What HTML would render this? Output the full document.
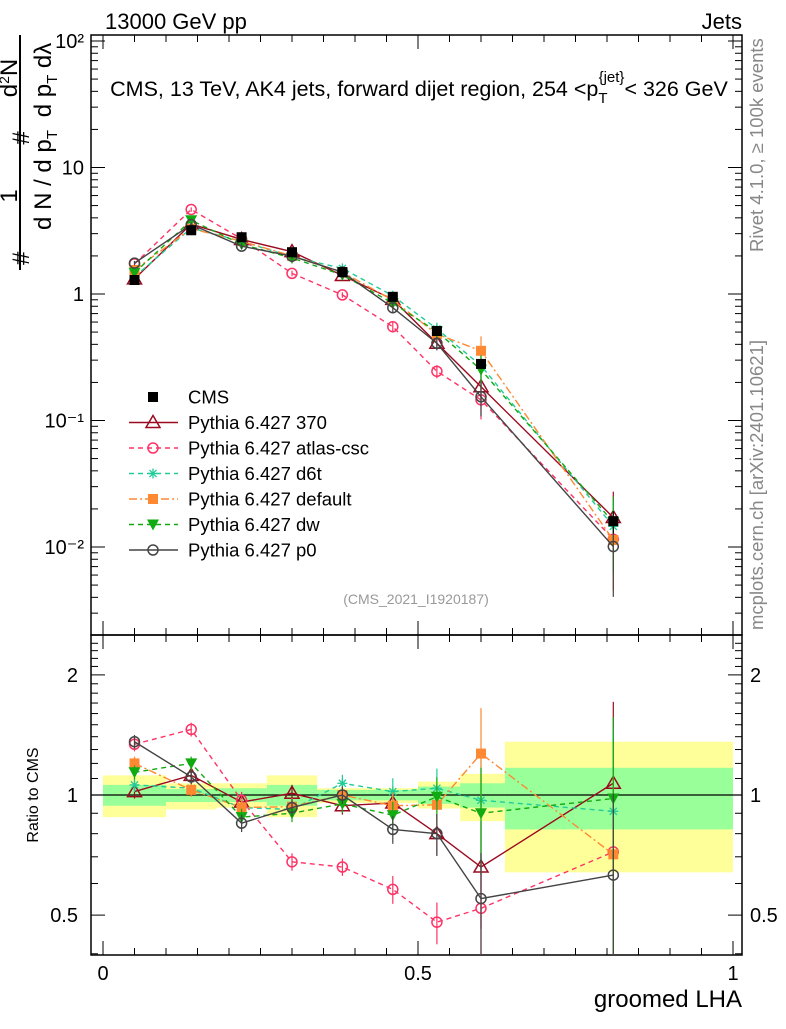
<!DOCTYPE html>
<html><head><meta charset="utf-8"><style>
body{margin:0;background:#fff}
svg{font-family:"Liberation Sans",sans-serif}
</style></head><body>
<svg id="chart" width="786" height="1024" xmlns="http://www.w3.org/2000/svg">
<text x="105" y="29" font-size="22">13000 GeV pp</text>
<text x="742" y="29" font-size="22" text-anchor="end">Jets</text>
<text x="419" y="96" font-size="21.5" text-anchor="middle">CMS, 13 TeV, AK4 jets, forward dijet region, 254 &lt;p<tspan font-size="15" dy="7">T</tspan><tspan font-size="15" dx="-9" dy="-21">{jet}</tspan><tspan dy="14">&lt; 326 GeV</tspan></text>
<text x="416" y="604" font-size="14" fill="#999" text-anchor="middle">(CMS_2021_I1920187)</text>
<g font-size="24">
<line x1="20" y1="35" x2="20" y2="270" stroke="#000" stroke-width="2"/>
<text transform="translate(29,265) rotate(-90)">#</text>
<text transform="translate(17,196) rotate(-90)" text-anchor="middle">1</text>
<text transform="translate(51,180) rotate(-90)" text-anchor="middle">d N / d p<tspan font-size="15" dy="6">T</tspan></text>
<text transform="translate(29,138) rotate(-90)" text-anchor="middle">#</text>
<text transform="translate(17,78) rotate(-90)" text-anchor="middle">d<tspan font-size="14" dy="-8">2</tspan><tspan dy="8">N</tspan></text>
<text transform="translate(51,80) rotate(-90)" text-anchor="middle">d p<tspan font-size="15" dy="6">T</tspan><tspan dy="-6">  d</tspan>λ</text>
</g>
<text transform="translate(763,252) rotate(-90)" font-size="18.5" fill="#888">Rivet 4.1.0, ≥ 100k events</text>
<text transform="translate(763,630) rotate(-90)" font-size="18.5" fill="#888">mcplots.cern.ch [arXiv:2401.10621]</text>
<text transform="translate(38,795) rotate(-90)" font-size="16" text-anchor="middle">Ratio to CMS</text>
<text x="742" y="1007" font-size="24" text-anchor="end">groomed LHA</text>
<g id="bands"></g><g id="grid"></g><g id="series"></g><g id="legend"></g>
</svg>
<script>
const binEdges=[0,0.1,0.18,0.26,0.34,0.42,0.5,0.567,0.638,1];
const xCenters=[0.05,0.14,0.22,0.3,0.38,0.46,0.53,0.6,0.81];
const cmsValues=[1.29,3.19,2.81,2.14,1.49,0.95,0.51,0.28,0.016];
const cmsErr=[0.05,0.06,0.05,0.05,0.05,0.05,0.06,0.08,0.2];
const bandTotLo=[0.88,0.92,0.93,0.88,0.955,0.955,0.925,0.86,0.64];
const bandTotHi=[1.12,1.07,1.07,1.12,1.04,1.04,1.08,1.13,1.36];
const bandStatLo=[0.94,0.96,0.96,0.94,0.97,0.97,0.95,0.93,0.82];
const bandStatHi=[1.06,1.035,1.04,1.06,1.03,1.03,1.05,1.07,1.17];
const r370=[1.02,1.12,0.96,1.01,0.94,0.955,0.80,0.66,1.07];
const rAtlas=[1.34,1.46,0.97,0.68,0.66,0.58,0.48,0.52,0.72];
const rD6t=[1.06,1.04,0.93,0.92,1.07,1.02,1.04,0.97,0.91];
const rDefault=[1.20,1.03,0.93,0.935,1.0,0.94,0.945,1.27,0.71];
const rDw=[1.14,1.20,0.88,0.90,0.95,0.89,0.99,0.90,0.98];
const rP0=[1.36,1.11,0.85,0.93,1.0,0.82,0.80,0.55,0.63];
const modelErr=[0.04,0.04,0.05,0.05,0.05,0.08,0.12,0.3,0.6];
const yTicksMain=[100,10,1,0.1,0.01];
const yTickLabelsMain=["10²","10","1","10⁻¹","10⁻²"];
const xTicks=[0,0.5,1];
const xTickLabels=["0","0.5","1"];
const rTicks=[2,1,0.5];
const rTickLabels=["2","1","0.5"];

const NS="http://www.w3.org/2000/svg";
const L=91,R=742,T=35,MB=635,B=955;
const X=v=>103+630*v;
const Y=v=>294-126.5*Math.log10(v);
const YR=r=>795-399*Math.log10(r);
function mk(tag,at,parent){const e=document.createElementNS(NS,tag);for(const k in at)e.setAttribute(k,at[k]);parent.appendChild(e);return e;}
const bands=document.getElementById('bands'),grid=document.getElementById('grid'),ser=document.getElementById('series'),leg=document.getElementById('legend');
for(let i=0;i<9;i++){
 const x0=X(binEdges[i]),x1=X(binEdges[i+1]);
 let e=mk('rect',{x:x0,y:YR(bandTotHi[i]),width:x1-x0,height:YR(bandTotLo[i])-YR(bandTotHi[i]),fill:'#ffff99'},bands);
 
 
 e=mk('rect',{x:x0,y:YR(bandStatHi[i]),width:x1-x0,height:YR(bandStatLo[i])-YR(bandStatHi[i]),fill:'#99ff99'},bands);
 
 
}
mk('line',{x1:L,x2:R,y1:YR(1),y2:YR(1),stroke:'#000','stroke-width':1.3},grid);
let fr=mk('rect',{x:L,y:T,width:R-L,height:MB-T,fill:'none',stroke:'#000','stroke-width':1.5},grid);


fr=mk('rect',{x:L,y:MB,width:R-L,height:B-MB,fill:'none',stroke:'#000','stroke-width':1.5},grid);


for(let d=-3;d<=2;d++){for(let m=1;m<10;m++){const v=m*Math.pow(10,d);const y=Y(v);if(y<T||y>MB)continue;const len=m==1?14:7;
 mk('line',{x1:L,x2:L+len,y1:y,y2:y,stroke:'#000'},grid);mk('line',{x1:R,x2:R-len,y1:y,y2:y,stroke:'#000'},grid);}}
yTicksMain.forEach((v,i)=>{const t=mk('text',{x:84,y:Y(v)+7,'font-size':20,'text-anchor':'end'},grid);t.textContent=yTickLabelsMain[i];
 
 });
for(let r=0.4;r<=2.5;r+=0.1){const y=YR(r);if(y<MB||y>B)continue;const maj=Math.abs(r-0.5)<1e-6||Math.abs(r-1)<1e-6||Math.abs(r-2)<1e-6;const len=maj?14:7;
 mk('line',{x1:L,x2:L+len,y1:y,y2:y,stroke:'#000'},grid);mk('line',{x1:R,x2:R-len,y1:y,y2:y,stroke:'#000'},grid);}
rTicks.forEach((v,i)=>{let t=mk('text',{x:78,y:YR(v)+7,'font-size':20,'text-anchor':'end'},grid);t.textContent=rTickLabels[i];
 
 
 t=mk('text',{x:750,y:YR(v)+7,'font-size':20},grid);t.textContent=rTickLabels[i];
 
 });
for(let k=0;k<=20;k++){const v=k*0.05;const x=X(v);const len=k%10==0?14:7;
 [[MB,1],[T,1],[B,-1],[MB,-1]].forEach(([y0,s])=>mk('line',{x1:x,x2:x,y1:y0,y2:y0+s*len,stroke:'#000'},grid));}
xTicks.forEach((v,i)=>{const t=mk('text',{x:X(v),y:980,'font-size':20,'text-anchor':'middle'},grid);t.textContent=xTickLabels[i];
 
 });

function marker(type,x,y,col,g){
 if(type=='sq')mk('rect',{x:x-5,y:y-5,width:10,height:10,fill:col},g);
 else if(type=='tri')mk('polygon',{points:`${x},${y-7} ${x-7},${y+5} ${x+7},${y+5}`,fill:'none',stroke:col,'stroke-width':1.5},g);
 else if(type=='circ')mk('circle',{cx:x,cy:y,r:5,fill:'none',stroke:col,'stroke-width':1.5},g);
 else if(type=='star'){for(let a=0;a<4;a++){const an=a*Math.PI/4;mk('line',{x1:x-5*Math.cos(an),y1:y-5*Math.sin(an),x2:x+5*Math.cos(an),y2:y+5*Math.sin(an),stroke:col,'stroke-width':1.3},g);}}
 else if(type=='dtri')mk('polygon',{points:`${x-6},${y-5} ${x+6},${y-5} ${x},${y+6}`,fill:col},g);
}
const models=[
 {name:'Pythia 6.427 370',r:r370,col:'#9b0a1f',m:'tri',dash:''},
 {name:'Pythia 6.427 atlas-csc',r:rAtlas,col:'#ff3366',m:'circ',dash:'5,4'},
 {name:'Pythia 6.427 d6t',r:rD6t,col:'#22cc99',m:'star',dash:'5,4'},
 {name:'Pythia 6.427 default',r:rDefault,col:'#ff8833',m:'sq',dash:'8,3,2,3'},
 {name:'Pythia 6.427 dw',r:rDw,col:'#11aa11',m:'dtri',dash:'5,4'},
 {name:'Pythia 6.427 p0',r:rP0,col:'#444444',m:'circ',dash:''}];
models.forEach(md=>{
 const g=mk('g',{},ser);
 
 
 const vals=md.r.map((r,i)=>r*cmsValues[i]);
 const attrs={fill:'none',stroke:md.col,'stroke-width':1.4};if(md.dash)attrs['stroke-dasharray']=md.dash;
 mk('polyline',Object.assign({points:vals.map((v,i)=>X(xCenters[i])+','+Y(v)).join(' ')},attrs),g);
 mk('polyline',Object.assign({points:md.r.map((v,i)=>X(xCenters[i])+','+YR(v)).join(' ')},attrs),g);
 vals.forEach((v,i)=>{const x=X(xCenters[i]);const e=modelErr[i];
  mk('line',{x1:x,x2:x,y1:Y(v*(1+e)),y2:Y(Math.max(v*(1-e),1e-4)),stroke:md.col,'stroke-width':1.2},g);
  mk('line',{x1:x,x2:x,y1:YR(md.r[i]*(1+e)),y2:Math.min(YR(Math.max(md.r[i]*(1-e),0.3)),B),stroke:md.col,'stroke-width':1.2},g);
  marker(md.m,x,Y(v),md.col,g);marker(md.m,x,YR(md.r[i]),md.col,g);});
});
const cg=mk('g',{},ser);


cmsValues.forEach((v,i)=>{const x=X(xCenters[i]);mk('line',{x1:x,x2:x,y1:Y(v*(1+cmsErr[i])),y2:Y(v*(1-cmsErr[i])),stroke:'#000'},cg);marker('sq',x,Y(v),'#000',cg);});
const legItems=[{name:'CMS',col:'#000',m:'sq',dash:'',line:false}].concat(models.map(m=>Object.assign({line:true},m)));
legItems.forEach((it,i)=>{const y=397+25.5*i;const g=mk('g',{},leg);
 
 
 if(it.line){const a={x1:129,x2:178,y1:y,y2:y,stroke:it.col,'stroke-width':1.4};if(it.dash)a['stroke-dasharray']=it.dash;mk('line',a,g);}
 marker(it.m,153,y,it.col,g);
 const t=mk('text',{x:188,y:y+6.5,'font-size':18.5},g);t.textContent=it.name;});
</script>
</body></html>
